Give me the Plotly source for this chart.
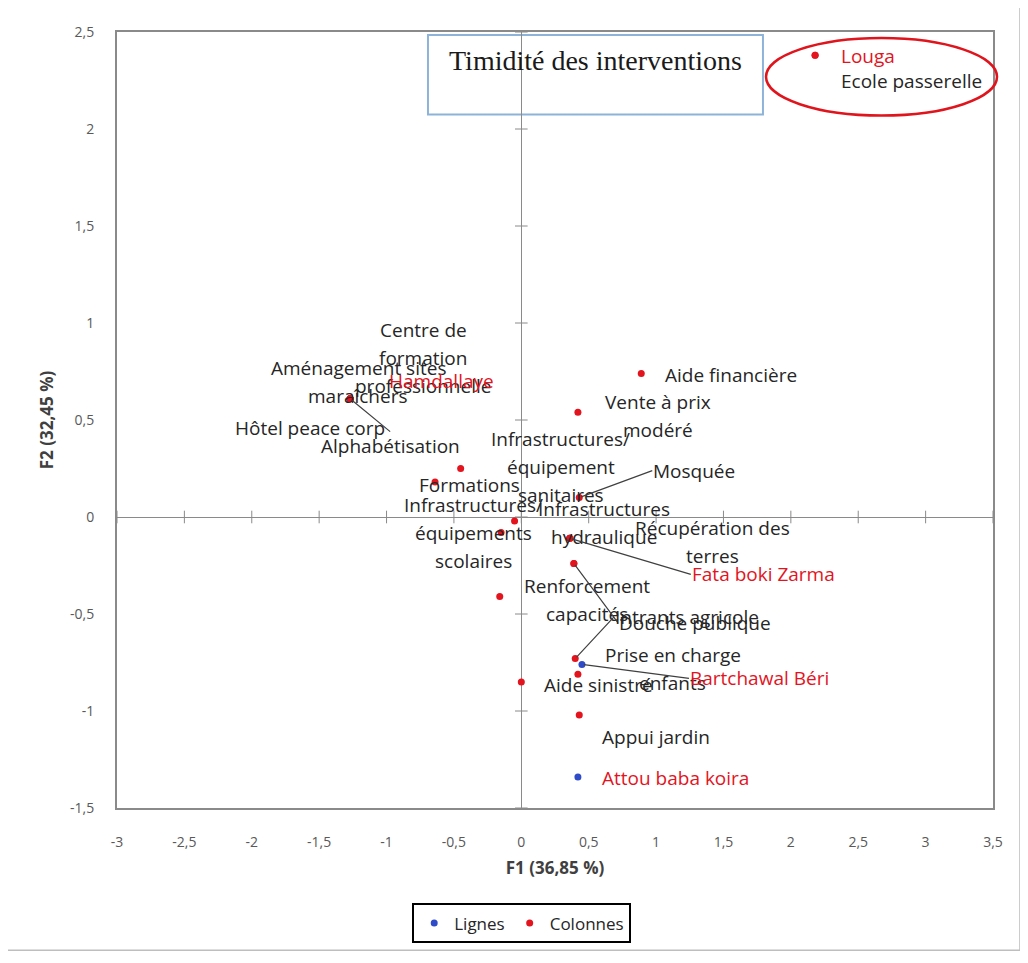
import plotly.graph_objects as go

# ---------------- data ----------------
# Colonnes (red points)
col_labels = [
    "Ecole passerelle", "Louga", "Aide financière", "Vente à prix<br>modéré",
    "Centre de<br>formation<br>professionnelle", "Aménagement sites<br>maraîchers",
    "Hamdallaye", "Hôtel peace corp", "Alphabétisation", "Formations", "",
    "Infrastructures/<br>équipement<br>sanitaires", "Mosquée",
    "Infrastructures/<br>équipements<br>scolaires", "Infrastructures<br>hydraulique",
    "Récupération des<br>terres", "Fata boki Zarma", "Renforcement<br>capacités",
    "Douche publique", "", "Intrants agricole", "Prise en charge<br>enfants",
    "Aide sinistré", "Appui jardin",
]
col_x = [2.18, 2.18, 0.89, 0.42, -1.27, -1.27, -1.27, -1.27, -1.27, -0.45, -0.64,
         -0.05, 0.43, -0.15, 0.36, 0.36, 0.36, 0.39, 0.39, -0.16, 0.40, 0.42, 0.00, 0.43]
col_y = [2.38, 2.38, 0.74, 0.54, 0.61, 0.61, 0.61, 0.61, 0.61, 0.25, 0.18,
         -0.02, 0.10, -0.08, -0.11, -0.11, -0.11, -0.24, -0.24, -0.41, -0.73, -0.81, -0.85, -1.02]

# Lignes (blue points)
lig_labels = ["Bartchawal Béri", "Attou baba koira"]
lig_x = [0.45, 0.42]
lig_y = [-0.76, -1.34]

# labels drawn in red
red_labels = ["Louga", "Hamdallaye", "Fata boki Zarma", "Bartchawal Béri", "Attou baba koira"]

x_ticks = [-3, -2.5, -2, -1.5, -1, -0.5, 0, 0.5, 1, 1.5, 2, 2.5, 3, 3.5]
y_ticks = [-1.5, -1, -0.5, 0, 0.5, 1, 1.5, 2, 2.5]
x_title = "F1 (36,85 %)"
y_title = "F2 (32,45 %)"
title_text = "Timidité des interventions"

# ---------------- label placement (pixel offsets: dx, dy(down), anchor, leader) ----------------
label_style = {
    "Ecole passerelle": (24, 26, "left", False),
    "Louga": (24, 1, "left", False),
    "Aide financière": (22, 2, "left", False),
    "Vente à prix<br>modéré": (80, -10, "center", False),
    "Centre de<br>formation<br>professionnelle": (73, -69, "center", False),
    "Aménagement sites<br>maraîchers": (8, -31, "center", False),
    "Hamdallaye": (37, -18, "left", False),
    "Hôtel peace corp": (-40, 29, "center", False),
    "Alphabétisation": (40, 33, "top", True),
    "Formations": (9, 16, "center", False),
    "Infrastructures/<br>équipement<br>sanitaires": (46, -82, "center", False),
    "Mosquée": (73, -27, "left", True),
    "Infrastructures/<br>équipements<br>scolaires": (-28, -28, "center", False),
    "Infrastructures<br>hydraulique": (34, -29, "center", False),
    "Récupération des<br>terres": (143, -10, "center", False),
    "Fata boki Zarma": (121, 36, "left", True),
    "Renforcement<br>capacités": (13, 22, "center", False),
    "Douche publique": (44, 59, "left", True),
    "Intrants agricole": (39, -42, "left", True),
    "Prise en charge<br>enfants": (95, -19, "center", False),
    "Aide sinistré": (21, 3, "left", False),
    "Appui jardin": (21, 22, "left", False),
    "Bartchawal Béri": (107, 14, "left", True),
    "Attou baba koira": (22, 1, "left", False),
}
LINE_SP = 28
RED = "#E3141E"
BLUE = "#2F4BC8"
TXT = "#262626"
LBL_FONT = "Open Sans"
LBL_SIZE = 19

fig = go.Figure()

# tick crosses on the zero lines
fig.add_trace(go.Scatter(x=[0] * len(y_ticks), y=y_ticks, mode="markers", showlegend=False,
                         hoverinfo="skip",
                         marker=dict(symbol="line-ew", size=9, line=dict(color="#8a8a8a", width=1))))
fig.add_trace(go.Scatter(x=x_ticks, y=[0] * len(x_ticks), mode="markers", showlegend=False,
                         hoverinfo="skip",
                         marker=dict(symbol="line-ns", size=9, line=dict(color="#8a8a8a", width=1))))

fig.add_trace(go.Scatter(x=lig_x, y=lig_y, mode="markers", name="Lignes",
                         marker=dict(color=BLUE, size=7), text=lig_labels))
fig.add_trace(go.Scatter(x=col_x, y=col_y, mode="markers", name="Colonnes",
                         marker=dict(color=RED, size=7), text=col_labels))

annotations = []
for lbls, xs, ys in ((col_labels, col_x, col_y), (lig_labels, lig_x, lig_y)):
    for lab, x, y in zip(lbls, xs, ys):
        if not lab:
            continue
        dx, dy, anch, leader = label_style[lab]
        color = RED if lab in red_labels else TXT
        font = dict(family=LBL_FONT, size=LBL_SIZE, color=color)
        if leader:
            xa, ya = ("center", "top") if anch == "top" else (anch, "middle")
            annotations.append(dict(x=x, y=y, xref="x", yref="y", text=lab, showarrow=True,
                                    arrowhead=0, arrowwidth=1.2, arrowcolor="#404040",
                                    ax=dx, ay=dy, xanchor=xa, yanchor=ya, font=font,
                                    borderpad=0, standoff=2))
        else:
            lines = lab.split("<br>")
            for i, ln in enumerate(lines):
                annotations.append(dict(x=x, y=y, xref="x", yref="y", text=ln, showarrow=False,
                                        xanchor=anch, yanchor="middle",
                                        xshift=dx, yshift=-(dy + i * LINE_SP), font=font))

# title text box
annotations.append(dict(x=0.5468, y=0.963, xref="paper", yref="paper", text=title_text,
                        showarrow=False, xanchor="center", yanchor="middle",
                        font=dict(family="Liberation Serif", size=28, color="#1a1a1a")))

shapes = [
    dict(type="rect", xref="paper", yref="paper", x0=0.355, x1=0.7374, y0=0.8936, y1=0.9962,
         line=dict(color="#8DB4D8", width=2), fillcolor="rgba(0,0,0,0)", layer="below"),
    dict(type="circle", xref="paper", yref="paper", x0=0.7409, x1=1.0046, y0=0.8923, y1=0.9923,
         line=dict(color="#E0141C", width=2.5)),
    dict(type="rect", xref="paper", yref="paper", x0=-0.1256, x1=1.0308, y0=-0.1833, y1=1.0346,
         line=dict(color="#BEBEBE", width=1.5)),
]

fig.update_layout(
    width=1012, height=947,
    margin=dict(l=109, r=27, t=24, b=143),
    paper_bgcolor="white", plot_bgcolor="white",
    annotations=annotations, shapes=shapes,
    showlegend=True,
    legend=dict(orientation="h", x=0.462, xanchor="center", y=-0.123, yanchor="top",
                bordercolor="#000000", borderwidth=2,
                font=dict(family=LBL_FONT, size=17, color=TXT), itemwidth=30,
                tracegroupgap=0),
)
fig.update_xaxes(
    range=[-3, 3.5], tickvals=x_ticks, automargin=False,
    ticktext=[str(v).replace(".", ",") if v != int(v) else str(int(v)) for v in x_ticks],
    showgrid=False, zeroline=True, zerolinecolor="#8a8a8a", zerolinewidth=1,
    showline=True, linecolor="#8a8a8a", linewidth=2, mirror=True, ticks="",
    ticklabelstandoff=20,
    tickfont=dict(family=LBL_FONT, size=14, color="#595959"),
    title=dict(text="<b>" + x_title + "</b>", standoff=12,
               font=dict(family=LBL_FONT, size=17, color="#404040")),
)
fig.update_yaxes(
    range=[-1.5, 2.5], tickvals=y_ticks, automargin=False,
    ticktext=[str(v).replace(".", ",") if v != int(v) else str(int(v)) for v in y_ticks],
    showgrid=False, zeroline=True, zerolinecolor="#8a8a8a", zerolinewidth=1,
    showline=True, linecolor="#8a8a8a", linewidth=2, mirror=True, ticks="",
    ticklabelstandoff=18,
    tickfont=dict(family=LBL_FONT, size=14, color="#595959"),
    title=dict(text="<b>" + y_title + "</b>", standoff=12,
               font=dict(family=LBL_FONT, size=17, color="#404040")),
)

fig.write_html("out.html")
